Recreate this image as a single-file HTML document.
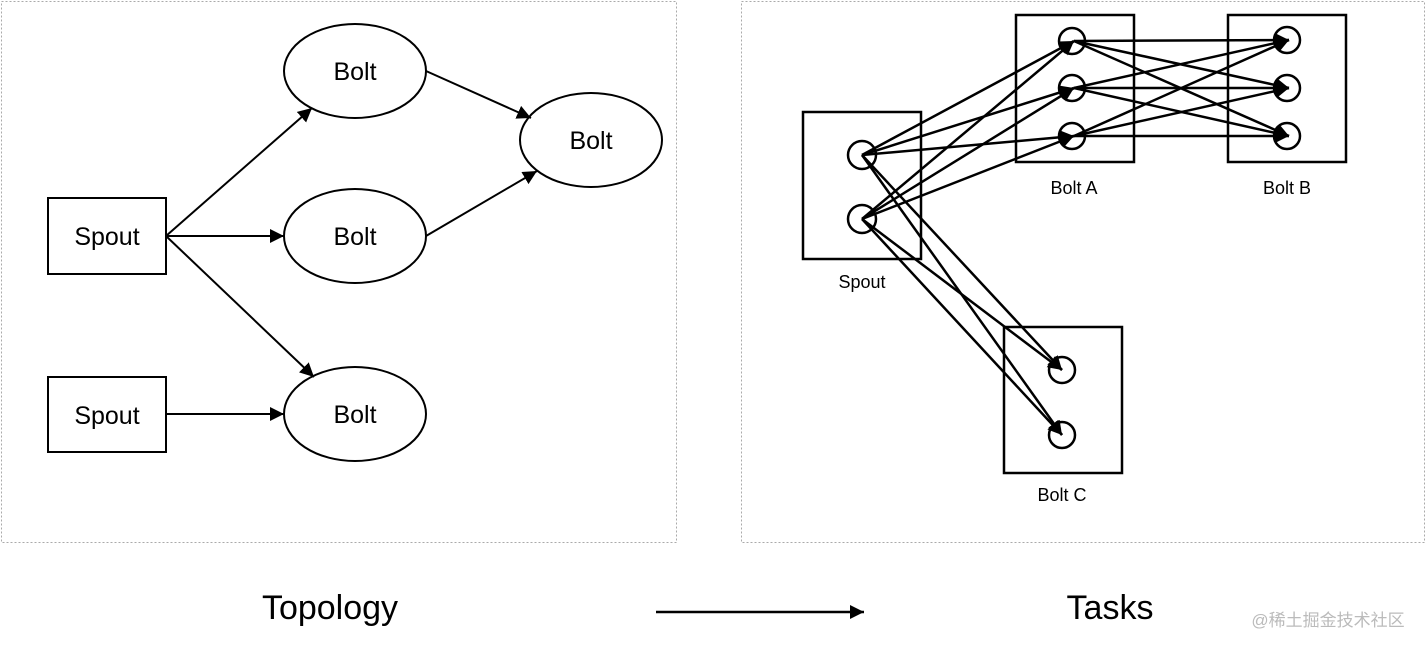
<!DOCTYPE html>
<html><head><meta charset="utf-8"><style>
html,body{margin:0;padding:0;background:#fff;}
svg{display:block;font-family:"Liberation Sans","Noto Sans CJK SC",sans-serif;}
</style></head><body>
<svg width="1427" height="650" viewBox="0 0 1427 650" xmlns="http://www.w3.org/2000/svg">
<defs>
<marker id="a" viewBox="0 0 10 10" refX="10" refY="5" markerWidth="14" markerHeight="14" markerUnits="userSpaceOnUse" orient="auto"><path d="M0,0 L10,5 L0,10 z" fill="#000"/></marker>
<marker id="b" viewBox="0 0 10 10" refX="10" refY="5" markerWidth="14" markerHeight="14" markerUnits="userSpaceOnUse" orient="auto"><path d="M0,0 L10,5 L0,10 z" fill="#000"/></marker>
</defs>
<rect x="1.5" y="1.5" width="675" height="541" fill="none" stroke="#aaa" stroke-dasharray="2,2"/>
<rect x="741.5" y="1.5" width="683" height="541" fill="none" stroke="#aaa" stroke-dasharray="2,2"/>
<g stroke="#000" stroke-width="2" fill="#fff">
<rect x="48" y="198" width="118" height="76"/>
<rect x="48" y="377" width="118" height="75"/>
<ellipse cx="355" cy="71" rx="71" ry="47"/>
<ellipse cx="355" cy="236" rx="71" ry="47"/>
<ellipse cx="355" cy="414" rx="71" ry="47"/>
<ellipse cx="591" cy="140" rx="71" ry="47"/>
</g>
<g stroke="#000" stroke-width="2" fill="none" marker-end="url(#b)">
<line x1="166" y1="236" x2="312" y2="108"/>
<line x1="166" y1="236" x2="284" y2="236"/>
<line x1="166" y1="236" x2="314" y2="377"/>
<line x1="166" y1="414" x2="284" y2="414"/>
<line x1="426" y1="71" x2="531" y2="118"/>
<line x1="426" y1="236" x2="537" y2="171"/>
</g>
<g font-size="25" text-anchor="middle">
<text x="107" y="245">Spout</text>
<text x="107" y="424">Spout</text>
<text x="355" y="80">Bolt</text>
<text x="355" y="245">Bolt</text>
<text x="355" y="423">Bolt</text>
<text x="591" y="149">Bolt</text>
</g>
<g stroke="#000" stroke-width="2.5" fill="#fff">
<rect x="803" y="112" width="118" height="147"/>
<rect x="1016" y="15" width="118" height="147"/>
<rect x="1228" y="15" width="118" height="147"/>
<rect x="1004" y="327" width="118" height="146"/>
<circle cx="862" cy="155" r="14"/><circle cx="862" cy="219" r="14"/>
<circle cx="1072" cy="41" r="13"/><circle cx="1072" cy="88" r="13"/><circle cx="1072" cy="136" r="13"/>
<circle cx="1287" cy="40" r="13"/><circle cx="1287" cy="88" r="13"/><circle cx="1287" cy="136" r="13"/>
<circle cx="1062" cy="370" r="13"/><circle cx="1062" cy="435" r="13"/>
</g>
<g stroke="#000" stroke-width="2.5" fill="none" marker-end="url(#a)">
<line x1="862" y1="155" x2="1074" y2="41"/><line x1="862" y1="155" x2="1074" y2="88"/><line x1="862" y1="155" x2="1074" y2="136"/>
<line x1="862" y1="219" x2="1074" y2="41"/><line x1="862" y1="219" x2="1074" y2="88"/><line x1="862" y1="219" x2="1074" y2="136"/>
<line x1="862" y1="155" x2="1062" y2="370"/><line x1="862" y1="155" x2="1062" y2="435"/>
<line x1="862" y1="219" x2="1062" y2="370"/><line x1="862" y1="219" x2="1062" y2="435"/>
<line x1="1074" y1="41" x2="1289" y2="40"/><line x1="1074" y1="41" x2="1289" y2="88"/><line x1="1074" y1="41" x2="1289" y2="136"/>
<line x1="1074" y1="88" x2="1289" y2="40"/><line x1="1074" y1="88" x2="1289" y2="88"/><line x1="1074" y1="88" x2="1289" y2="136"/>
<line x1="1074" y1="136" x2="1289" y2="40"/><line x1="1074" y1="136" x2="1289" y2="88"/><line x1="1074" y1="136" x2="1289" y2="136"/>
</g>
<g font-size="18" text-anchor="middle">
<text x="862" y="288">Spout</text>
<text x="1074" y="194">Bolt A</text>
<text x="1287" y="194">Bolt B</text>
<text x="1062" y="501">Bolt C</text>
</g>
<text x="330" y="619" font-size="34" text-anchor="middle">Topology</text>
<text x="1110" y="619" font-size="34" text-anchor="middle">Tasks</text>
<line x1="656" y1="612" x2="864" y2="612" stroke="#000" stroke-width="2.5" marker-end="url(#b)"/>
<text x="1328" y="626" font-size="17" fill="#bbb" text-anchor="middle">@稀土掘金技术社区</text>
</svg>
</body></html>
